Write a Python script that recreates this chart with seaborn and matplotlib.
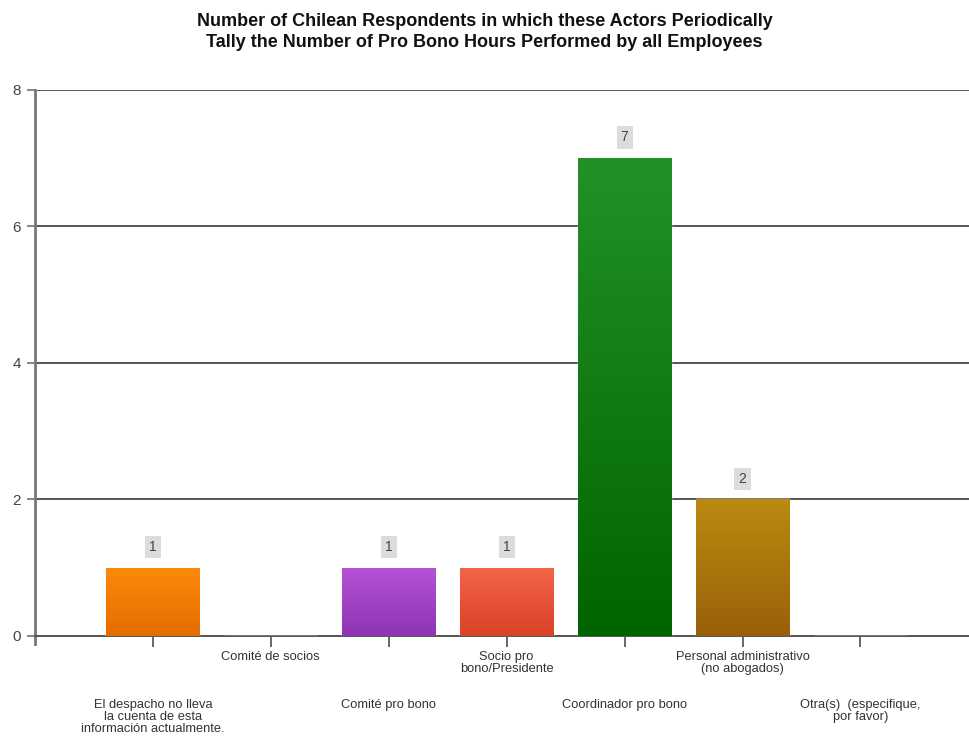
import numpy as np
import pandas as pd
import matplotlib
matplotlib.use("Agg")
import matplotlib.pyplot as plt
import matplotlib.colors as mcolors
import seaborn as sns

categories = [
    "El despacho no lleva\nla cuenta de esta\ninformación actualmente.",
    "Comité de socios",
    "Comité pro bono",
    "Socio pro\nbono/Presidente",
    "Coordinador pro bono",
    "Personal administrativo\n(no abogados)",
    "Otra(s)  (especifique,\npor favor)",
]
values = [1, 0, 1, 1, 7, 2, 0]
top_colors = ["#fb8c0a", "#ffffff", "#b552d6", "#f4654a", "#23912a", "#bb8a10", "#ffffff"]
bottom_colors = ["#e66c00", "#ffffff", "#8e35b3", "#d94226", "#006400", "#99600a", "#ffffff"]
title = ("Number of Chilean Respondents in which these Actors Periodically\n"
         "Tally the Number of Pro Bono Hours Performed by all Employees")

sns.set_theme(style="white")
plt.rcParams["font.family"] = ["Liberation Sans", "DejaVu Sans"]

df = pd.DataFrame({"cat": categories, "val": values})

fig = plt.figure(figsize=(9.69, 7.42), dpi=100)
ax = fig.add_axes([0.036, 0.143, 0.964, 0.736])

sns.barplot(data=df, x="cat", y="val", hue="cat", palette=top_colors,
            legend=False, width=0.79, ax=ax, saturation=1, zorder=3)

ax.set_ylim(0, 8)
ax.set_xlim(-1.0, 6.92)

# gradients on bars
for i, p in enumerate(ax.patches):
    v = values[i] if i < len(values) else 0
    if v <= 0:
        continue
    x0 = p.get_x()
    w = p.get_width()
    h = p.get_height()
    cmap = mcolors.LinearSegmentedColormap.from_list(
        "g%d" % i, [bottom_colors[i], top_colors[i]])
    grad = np.linspace(0, 1, 256).reshape(-1, 1)
    im = ax.imshow(grad, extent=[x0, x0 + w, 0, h], origin="lower",
                   aspect="auto", cmap=cmap, zorder=4)
    im.set_clip_path(p)
    ax.text(x0 + w / 2, h + 0.2, str(v), ha="center", va="bottom",
            fontsize=10, color="#444444", zorder=5,
            bbox=dict(boxstyle="square,pad=0.3", fc="#dcdcdc", ec="none"))
ax.set_xlim(-1.0, 6.92)
ax.set_ylim(0, 8)

# gridlines
ax.set_yticks([0, 2, 4, 6, 8])
ax.yaxis.grid(True, color="#555555", linewidth=1.4, zorder=0)
ax.xaxis.grid(False)

for s in ["top", "right"]:
    ax.spines[s].set_visible(False)
ax.spines["left"].set_color("#777777")
ax.spines["left"].set_linewidth(2)
ax.spines["left"].set_bounds(-0.12, 8)
ax.spines["bottom"].set_color("#555555")
ax.spines["bottom"].set_linewidth(1.4)

ax.tick_params(axis="y", left=True, length=6, color="#777777", labelsize=11,
               labelcolor="#444444", pad=4)
ax.tick_params(axis="x", bottom=True, length=8, color="#555555")

ax.set_xticks(range(len(categories)))
ax.set_xticklabels([])
for i, c in enumerate(categories):
    ypos = -0.22 if i % 2 == 1 else -0.92
    ax.text(i, ypos, c, ha="center", va="top", fontsize=9.3,
            color="#333333", transform=ax.transData, clip_on=False,
            linespacing=1.0)

ax.set_xlabel("")
ax.set_ylabel("")
fig.text(0.5, 0.983, title, ha="center", va="top", fontsize=13,
         fontweight="bold", color="#111111", linespacing=1.35)

fig.savefig("out.png", dpi=100)
